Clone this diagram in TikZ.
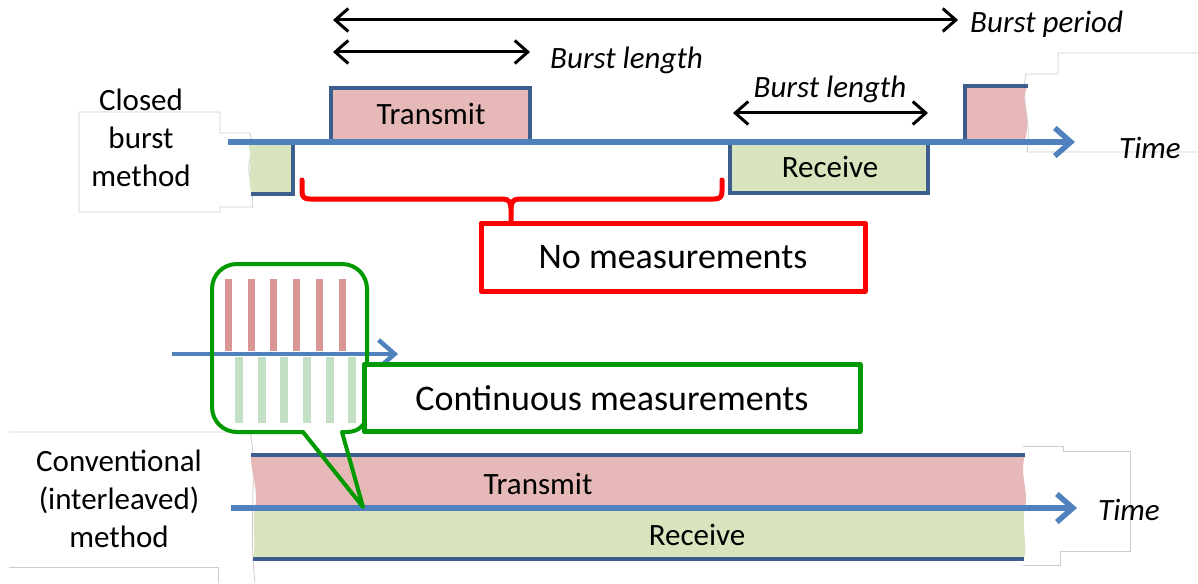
\documentclass[tikz,border=0pt]{standalone}
\usepackage{fontspec}
\setmainfont{Carlito}
\usetikzlibrary{arrows.meta}
\definecolor{txfill}{HTML}{E6B9B8}
\definecolor{rxfill}{HTML}{D7E4BD}
\definecolor{edgeblue}{HTML}{3B5E8C}
\definecolor{axisblue}{HTML}{4F81BD}
\definecolor{redline}{HTML}{FF0000}
\definecolor{greenline}{HTML}{009A00}
\definecolor{txbar}{HTML}{D99694}
\definecolor{rxbar}{HTML}{C4E0C4}
\tikzset{
  torn/.style={draw=gray!40, line width=0.8pt},
  boxedge/.style={draw=edgeblue, line width=4.5pt, line join=miter},
  timeaxis/.style={draw=axisblue, line width=5.5pt, -{Straight Barb[length=16pt,width=28pt]}},
  dimarrow/.style={draw=black, line width=3pt,
    {Straight Barb[length=13pt,width=23pt]}-{Straight Barb[length=13pt,width=23pt]}},
  lbl/.style={font=\fontsize{31}{38}\selectfont, align=center, inner sep=0pt},
  itl/.style={font=\fontsize{31}{38}\selectfont\itshape, inner sep=0pt},
  mbox/.style={font=\fontsize{36}{42}\selectfont, line width=5pt, line join=round,
    fill=white, inner sep=0pt},
  bracket/.style={draw=redline, line width=5pt, line join=round, line cap=round},
}
\begin{document}
\begin{tikzpicture}[x=1pt,y=-1pt]
\useasboundingbox (0,0) rectangle (1198,583);

% ---- torn-paper outlines ----
\draw[torn] (79,112) -- (220,112) -- (220,133) -- (250,133)
  .. controls (256,150) and (244,165) .. (251,180)
  .. controls (256,192) and (250,200) .. (253,207)
  -- (220,207) -- (220,212) -- (79,212) -- cycle;
\draw[torn] (1198,53) -- (1058,53) -- (1058,74) -- (1026,74)
  .. controls (1020,100) and (1032,118) .. (1027,152) -- (1198,152);
\draw[torn] (9,432) -- (250,432)
  .. controls (258,470) and (248,520) .. (255,583);
\draw[torn] (9,567) -- (218,567) -- (218,583);
\draw[torn] (1023,446) -- (1063,446) -- (1063,451) -- (1130,451) -- (1130,551)
  -- (1060,551) -- (1060,565) -- (1023,565);

% ---- closed burst: slots ----
\fill[rxfill] (248,142) -- (293,142) -- (293,194) -- (252,194)
  .. controls (246,178) and (254,165) .. (248,142) -- cycle;
\draw[boxedge] (251,194) -- (293,194) -- (293,142);
\fill[txfill] (331,142) rectangle (530,88);
\draw[boxedge] (331,142) -- (331,88) -- (530,88) -- (530,142);
\fill[rxfill] (730,142) rectangle (928,193);
\draw[boxedge] (730,142) -- (730,193) -- (928,193) -- (928,142);
\fill[txfill] (965,140) -- (965,86) -- (1028,86)
  .. controls (1019,100) and (1032,116) .. (1025,140) -- cycle;
\draw[boxedge] (965,140) -- (965,86) -- (1028,86);

% ---- conventional: continuous bands ----
\fill[txfill] (251,455) -- (1025,455)
  .. controls (1019,475) and (1029,490) .. (1025,508) -- (255,508)
  .. controls (259,490) and (250,470) .. (251,455) -- cycle;
\fill[rxfill] (255,508) -- (1025,508)
  .. controls (1021,528) and (1028,545) .. (1024,559) -- (253,559)
  .. controls (257,540) and (251,525) .. (255,508) -- cycle;
\draw[boxedge] (251,455) -- (1025,455);
\draw[boxedge] (253,559) -- (1024,559);

% ---- measurement bars in the callout ----
\foreach \x in {228,251,273,296,319,342}
  \fill[txbar] (\x-3.5,279) rectangle (\x+3.5,351);
\foreach \x in {239,262,284,307,330,352}
  \fill[rxbar] (\x-4,357) rectangle (\x+4,423);

% ---- time axes ----
\coordinate (ax1s) at (228,142); \coordinate (ax1e) at (1075,142);
\coordinate (ax2s) at (231,508); \coordinate (ax2e) at (1077,508);
\coordinate (ax3s) at (172,354); \coordinate (ax3e) at (398,354);
\draw[timeaxis] (ax1s) -- (ax1e);
\draw[timeaxis] (ax2s) -- (ax2e);
\draw[timeaxis, line width=4.5pt] (ax3s) -- (ax3e);

% ---- callout ----
\coordinate (tip) at (363,507);
\draw[draw=greenline, line width=4pt, line join=round]
  (303,432) -- (237,432) .. controls (223,432) and (212,421) .. (212,407)
  -- (212,289) .. controls (212,275) and (223,264) .. (237,264)
  -- (342,264) .. controls (356,264) and (367,275) .. (367,289)
  -- (367,412) .. controls (367,424) and (359,432) .. (347,432)
  -- (342,432) -- (tip) -- cycle;

% ---- dimension arrows ----
\coordinate (bpL) at (333,20);  \coordinate (bpR) at (958,20);
\coordinate (blL) at (333,52);  \coordinate (blR) at (530,52);
\coordinate (bl2L) at (733,113); \coordinate (bl2R) at (928,113);
\draw[dimarrow] (bpL) -- (bpR);
\draw[dimarrow] (blL) -- (blR);
\draw[dimarrow] (bl2L) -- (bl2R);

% ---- callout boxes ----
\node[mbox, draw=redline, minimum width=384pt, minimum height=68pt] (nm) at (673,257) {No measurements};
\node[mbox, draw=greenline, minimum width=496pt, minimum height=67pt] (cm) at (612,398) {Continuous measurements};
\coordinate (bk) at (511,199);
\draw[bracket] (302,180) -- (302,191) .. controls (302,197) and (304,199) .. (310,199)
  -- (503,199) .. controls (509,199) and (511,203) .. (511,208) -- (nm.north -| bk);
\draw[bracket] (722,180) -- (722,191) .. controls (722,197) and (720,199) .. (714,199)
  -- (519,199) .. controls (513,199) and (511,203) .. (511,208);

% ---- labels ----
\node[lbl] (cbm) at (141,138) {Closed\\burst\\method};
\node[lbl] (tx1) at (431,114) {Transmit};
\node[lbl] (rx1) at (830,167) {Receive};
\node[itl, anchor=west] (bp) at (970,24) {Burst period};
\node[itl, anchor=west] (bl1) at (550,60) {Burst length};
\node[itl] (bl2) at (830,89) {Burst length};
\node[itl] (t1) at (1150,148) {Time};
\node[lbl] (cim) at (119,499) {Conventional\\(interleaved)\\method};
\node[lbl] (tx2) at (538,484) {Transmit};
\node[lbl] (rx2) at (697,535) {Receive};
\node[itl] (t2) at (1129,510) {Time};
\end{tikzpicture}
\end{document}
